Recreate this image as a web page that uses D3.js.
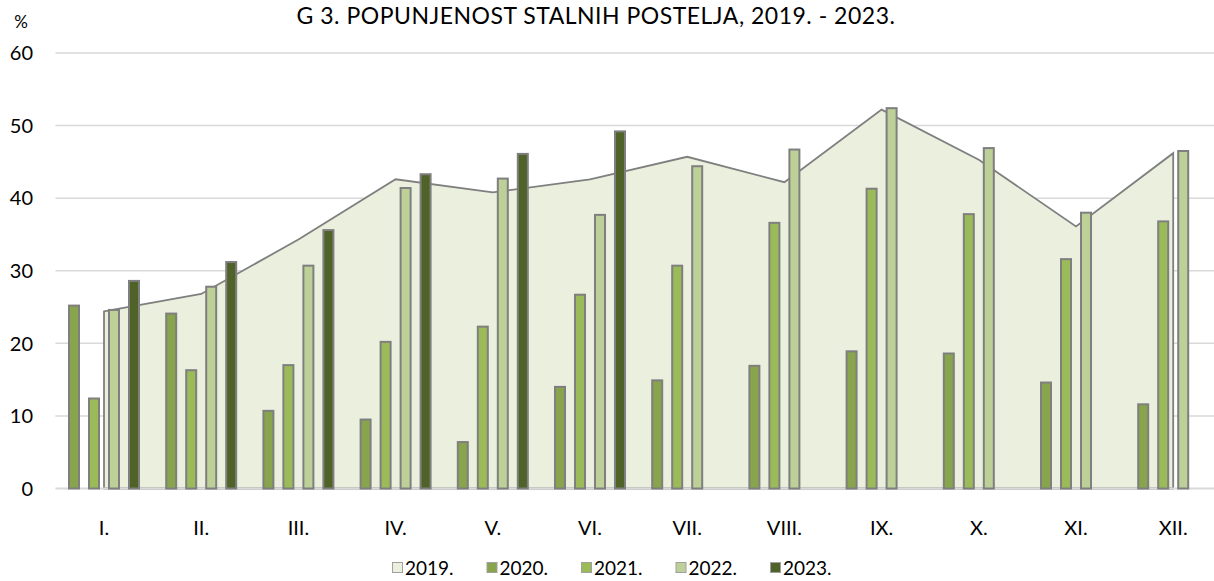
<!DOCTYPE html>
<html>
<head>
<meta charset="utf-8">
<script src="https://cdn.jsdelivr.net/npm/d3@7"></script>
<style>
  html, body { margin: 0; padding: 0; background: #fff; overflow: hidden; }
  svg { display: block; font-family: Lato, "Open Sans", sans-serif; }
</style>
</head>
<body>
<svg id="chart" width="1214" height="581"></svg>
<script>
const months = ["I.", "II.", "III.", "IV.", "V.", "VI.", "VII.", "VIII.", "IX.", "X.", "XI.", "XII."];
const values2019 = [24.4, 26.8, 34.3, 42.6, 40.8, 42.6, 45.7, 42.2, 52.2, 45.3, 36.1, 46.2];
const values2020 = [25.2, 24.1, 10.7, 9.5, 6.4, 14.0, 14.9, 16.9, 18.9, 18.6, 14.6, 11.6];
const values2021 = [12.4, 16.3, 17.0, 20.2, 22.3, 26.7, 30.7, 36.6, 41.3, 37.8, 31.6, 36.8];
const values2022 = [24.6, 27.8, 30.7, 41.4, 42.7, 37.7, 44.4, 46.7, 52.4, 46.9, 38.0, 46.5];
const values2023 = [28.6, 31.2, 35.6, 43.3, 46.1, 49.2, null, null, null, null, null, null];
const yTicks = [0, 10, 20, 30, 40, 50, 60];
const barYears = ["2020.", "2021.", "2022.", "2023."];
const legendLabels = ["2019.", "2020.", "2021.", "2022.", "2023."];
const titleText = "G 3. POPUNJENOST STALNIH POSTELJA, 2019. - 2023.";

const barSeries = [values2020, values2021, values2022, values2023];
const colors = { "2019.": "#EBF0DE", "2020.": "#88A44C", "2021.": "#9BBB59", "2022.": "#BCD098", "2023.": "#4F6228" };
const strokeGray = "#7F7F7F";

const svg = d3.select("#chart");
const left = 55.4, step = 97.2;
const x = d3.scaleBand().domain(months).range([left, left + step * months.length]).padding(0);
const y = d3.scaleLinear().domain([0, 60]).range([488.5, 53]);
const inner = d3.scaleBand().domain(barYears).range([-40, 40]).paddingInner(0.4).paddingOuter(0.2);
const cx = m => x(m) + x.bandwidth() / 2;

// title
svg.append("text").attr("x", 596).attr("y", 23.5).attr("text-anchor", "middle")
  .attr("font-size", 23).attr("letter-spacing", 0.5).attr("fill", "#000").text(titleText);

// % label
svg.append("text").attr("x", 21).attr("y", 28).attr("text-anchor", "middle")
  .attr("font-size", 17).attr("fill", "#000").text("%");

// gridlines
svg.append("g").selectAll("line").data(yTicks.filter(t => t > 0)).join("line")
  .attr("x1", left).attr("x2", 1214).attr("y1", d => y(d)).attr("y2", d => y(d))
  .attr("stroke", "#D9D9D9").attr("stroke-width", 1.5);

// y labels
svg.append("g").selectAll("text").data(yTicks).join("text")
  .attr("x", 33).attr("y", d => y(d)).attr("dy", "0.36em").attr("text-anchor", "end")
  .attr("font-size", 20).attr("fill", "#000").text(d => d);

// 2019 area
const area = d3.area().x((d, i) => cx(months[i])).y0(y(0)).y1(d => y(d));
svg.append("path").datum(values2019).attr("d", area)
  .attr("fill", colors["2019."]).attr("stroke", strokeGray).attr("stroke-width", 1.8)
  .attr("stroke-linejoin", "miter");

// axis baseline
svg.append("line").attr("x1", left).attr("x2", 1214).attr("y1", y(0)).attr("y2", y(0))
  .attr("stroke", "#D9D9D9").attr("stroke-width", 2);

// bars
barSeries.forEach((vals, si) => {
  const yr = barYears[si];
  svg.append("g").selectAll("rect").data(months.map((m, i) => ({ m, v: vals[i] })).filter(d => d.v != null))
    .join("rect")
    .attr("x", d => cx(d.m) + inner(yr) + 1)
    .attr("width", inner.bandwidth() - 2)
    .attr("y", d => y(d.v))
    .attr("height", d => y(0) - y(d.v))
    .attr("fill", colors[yr]).attr("stroke", strokeGray).attr("stroke-width", 2);
});

// x labels
svg.append("g").selectAll("text").data(months).join("text")
  .attr("x", d => cx(d)).attr("y", 528).attr("dy", "0.36em").attr("text-anchor", "middle")
  .attr("font-size", 20).attr("fill", "#000").text(d => d);

// legend
const legX0 = 392, legStep = 94.5, legY = 568;
const leg = svg.append("g").selectAll("g").data(legendLabels).join("g")
  .attr("transform", (d, i) => `translate(${legX0 + i * legStep},${legY})`);
leg.append("rect").attr("x", 0.5).attr("y", -5.5).attr("width", 10).attr("height", 10)
  .attr("fill", d => colors[d]).attr("stroke", "#A0A0A0").attr("stroke-width", 1);
leg.append("text").attr("x", 13).attr("y", 0).attr("dy", "0.36em")
  .attr("font-size", 19).attr("fill", "#000").text(d => d);
</script>
</body>
</html>
